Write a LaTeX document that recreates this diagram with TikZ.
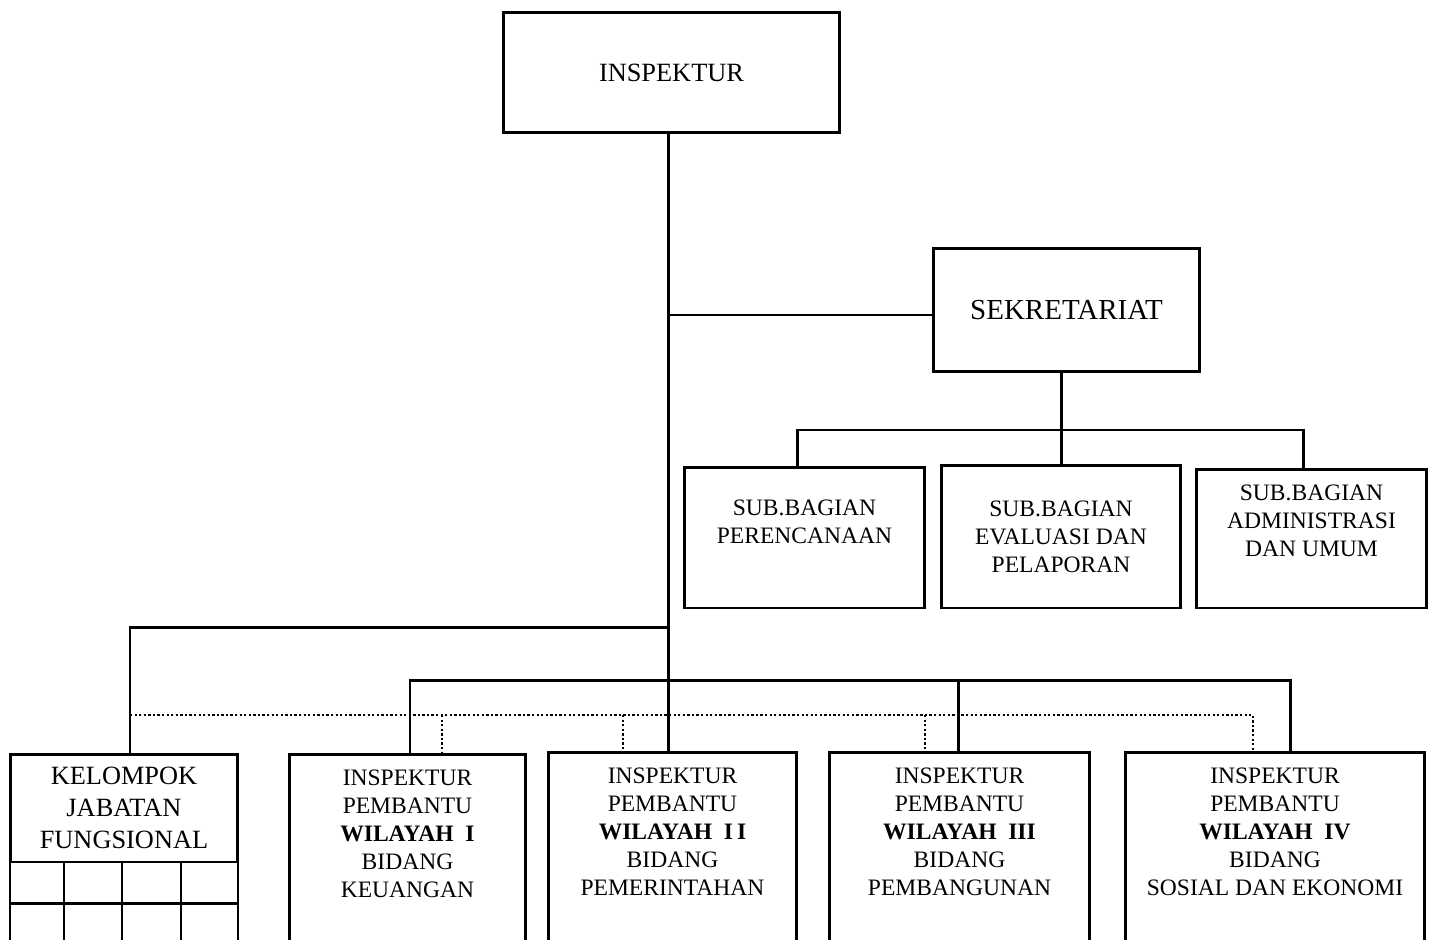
\documentclass[tikz,border=0pt]{standalone}
\usepackage{fontspec}
\setmainfont{Liberation Serif}
\begin{document}
\begin{tikzpicture}[
    x=0.02cm, y=-0.02cm,
    every node/.style={font=\fontsize{13.4}{15.9}\selectfont, align=center, inner sep=0pt},
    kotak/.style={draw, line width=1.7pt},
    garis/.style={line width=1.7pt},
    titik/.style={line width=1.5pt, dash pattern=on 1.3pt off 1.3pt}
]
\useasboundingbox (0,0) rectangle (1434,940);
\clip (0,0) rectangle (1434,940);
% Inspektur
\node[kotak, minimum width=6.74cm, minimum height=2.42cm, font=\fontsize{15}{18}\selectfont] (insp) at (671.5,72.5) {INSPEKTUR};
% Sekretariat
\node[kotak, minimum width=5.34cm, minimum height=2.48cm, font=\fontsize{16.5}{19}\selectfont] (sekr) at (1066.5,310) {SEKRETARIAT};
% Sub bagian
\node[kotak, minimum width=4.82cm, minimum height=2.82cm] (sub1) at (804.5,537.5) {};
\node (teks1) at (804.5,522) {SUB.BAGIAN\\PERENCANAAN};
\node[kotak, minimum width=4.8cm, minimum height=2.86cm] (sub2) at (1061,536.5) {SUB.BAGIAN\\EVALUASI DAN\\PELAPORAN};
\node[kotak, minimum width=4.62cm, minimum height=2.78cm] (sub3) at (1311.5,538.5) {};
\node (teks3) at (1311.5,521) {SUB.BAGIAN\\ADMINISTRASI\\DAN UMUM};
% Kelompok jabatan fungsional
\node[kotak, minimum width=4.56cm, minimum height=2.16cm, font=\fontsize{15}{18.1}\selectfont] (kjf) at (124,808) {KELOMPOK\\JABATAN\\FUNGSIONAL};
\foreach \gx in {10,64,122,181,238}
    \draw[garis] (\gx,862) -- (\gx,950);
\draw[garis] (10,903) -- (238,903);
% Inspektur pembantu
\node[kotak, minimum width=4.74cm, minimum height=4.12cm] (w1) at (407.5,857) {};
\node (tw1) at (407.5,833.5) {INSPEKTUR\\PEMBANTU\\\textbf{WILAYAH~~I}\\BIDANG\\KEUANGAN};
\node[kotak, minimum width=4.98cm, minimum height=4.16cm] (w2) at (672.5,856) {};
\node (tw2) at (672.5,832) {INSPEKTUR\\PEMBANTU\\\textbf{WILAYAH~~I\,I}\\BIDANG\\PEMERINTAHAN};
\node[kotak, minimum width=5.22cm, minimum height=4.16cm] (w3) at (959.5,856) {};
\node (tw3) at (959.5,832) {INSPEKTUR\\PEMBANTU\\\textbf{WILAYAH~~III}\\BIDANG\\PEMBANGUNAN};
\node[kotak, minimum width=6cm, minimum height=4.16cm] (w4) at (1275,856) {};
\node (tw4) at (1275,832) {INSPEKTUR\\PEMBANTU\\\textbf{WILAYAH~~IV}\\BIDANG\\SOSIAL DAN EKONOMI};
% Garis
\coordinate (tengah) at (668,0);
\draw[garis] (insp.south -| tengah) -- (w2.north -| tengah);
\draw[garis] ([yshift=-0.1cm]sekr.west) -- ([yshift=-0.1cm]sekr.west -| tengah);
\draw[garis] (sekr.south -| sub2.north) -- (sub2.north);
\coordinate (busatas) at (0,430);
\coordinate (ta1) at (797,0);
\coordinate (ta3) at (1303,0);
\draw[garis] (sub1.north -| ta1) -- (busatas -| ta1) -- (busatas -| ta3) -- (sub3.north -| ta3);
\coordinate (kiri) at (130,627);
\draw[garis] (kiri -| tengah) -- (kiri) -- (kjf.north -| kiri);
\coordinate (busbawah) at (0,680);
\coordinate (tb1) at (410,0);
\coordinate (tb3) at (958,0);
\coordinate (tb4) at (1290,0);
\draw[garis] (w1.north -| tb1) -- (busbawah -| tb1) -- (busbawah -| tb4) -- (w4.north -| tb4);
\draw[garis] (busbawah -| tb3) -- (w3.north -| tb3);
% Garis titik-titik
\coordinate (garistitik) at (0,715);
\coordinate (td1) at (442,0);
\coordinate (td2) at (623,0);
\coordinate (td3) at (925,0);
\coordinate (td4) at (1253,0);
\draw[titik] (garistitik -| kiri) -- (garistitik -| td4) -- (w4.north -| td4);
\foreach \t/\w in {td1/w1, td2/w2, td3/w3}
    \draw[titik] (garistitik -| \t) -- (\w.north -| \t);
\end{tikzpicture}
\end{document}
